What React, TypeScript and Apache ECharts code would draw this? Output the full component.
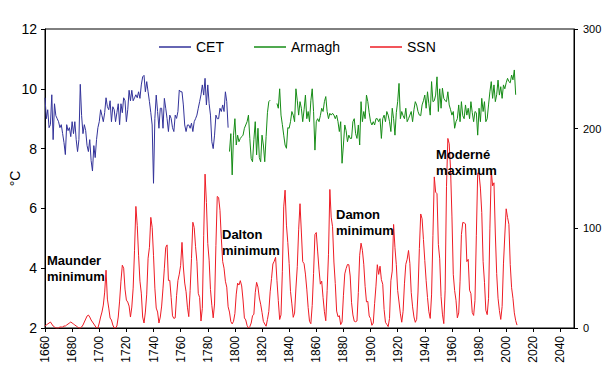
import React, { useEffect, useRef } from "react";
import * as echarts from "echarts";

const FONT = "'Liberation Sans', Arial, sans-serif";

// Central England Temperature, annual mean (°C), 1660–1795
const cetStartYear = 1660;
const cetValues = [
  9.7, 9.0, 9.3, 8.7, 8.8, 9.8, 8.3, 9.5, 9.1, 9.0,
  8.9, 8.7, 8.8, 8.5, 8.2, 7.8, 8.8, 8.6, 8.7, 8.4,
  8.9, 8.5, 8.9, 8.3, 7.9, 8.3, 10.15, 9.1, 8.5, 8.8,
  8.6, 8.1, 7.9, 8.3, 7.6, 7.25, 8.1, 7.7, 8.3, 8.7,
  8.9, 9.3, 9.1, 8.9, 9.2, 9.7, 9.4, 9.3, 9.6, 8.9,
  9.4, 9.3, 8.9, 9.2, 9.5, 8.8, 9.5, 9.2, 9.7, 9.6,
  8.9, 9.3, 9.95, 9.6, 9.95, 9.6, 9.7, 9.8, 9.7, 9.9,
  9.68, 10.13, 10.4, 10.45, 9.9, 10.24, 9.9, 9.57, 9.2, 8.79,
  6.84, 9.01, 9.79, 9.24, 8.68, 9.35, 9.35, 8.68, 9.68, 9.35,
  9.0, 8.57, 9.12, 9.01, 8.7, 8.57, 9.12, 9.01, 9.24, 9.96,
  9.9, 9.9, 9.46, 8.79, 8.57, 8.79, 8.79, 8.68, 8.85, 8.57,
  8.9, 9.0, 9.12, 9.35, 9.57, 9.8, 10.13, 9.79, 10.35, 9.46,
  10.13, 9.5, 9.12, 8.23, 8.0, 8.45, 9.12, 9.0, 9.0, 9.35,
  9.24, 9.46, 9.24, 9.9, 9.57, 8.7,
];

// Armagh annual mean (°C), 1796–2007 (null = missing years)
const armaghStartYear = 1796;
const armaghValues = [
  7.9, 8.5, 7.12, 8.45,
  9.0, 8.12, 8.45, 8.23, 8.34, 8.4, 8.45, 8.68, 8.79, 8.9,
  9.12, 8.34, 7.67, 7.56, 8.3, 8.9, 7.79, 8.68, 7.7, 7.56,
  8.45, 8.12, 7.56, 8.4, 9.2, 9.57, 9.62, null, null, null,
  null, 9.51, 9.35, 10.0, 9.12, 8.8, 8.45, 8.12, 8.01, 8.7,
  8.68, 8.9, 9.24, 9.12, 8.9, 10.0, 9.6, 9.12, 9.57, 9.35,
  8.9, 9.3, 9.79, 9.0, 9.24, 8.9, 9.6, 10.0, 9.24, 7.95,
  8.9, 9.0, 8.9, 9.1, 9.35, 9.24, 9.57, 9.74, 9.24, 9.0,
  9.18, 9.12, 9.18, 9.12, 9.0, 9.12, 8.9, 8.57, 8.9, 7.51,
  8.12, 8.79, 8.6, 8.23, 8.45, 8.34, 8.34, 8.9, 9.0, 8.5,
  8.34, 8.79, 8.12, 9.57, 8.9, 9.24, 9.0, 9.79, 9.57, 9.2,
  8.9, 8.79, 8.9, 8.79, 9.0, 9.0, 8.9, 9.0, 8.34, 9.0,
  9.12, 8.9, 9.24, 9.12, 8.9, 8.57, 9.35, 9.0, 8.45, 9.2,
  9.57, 10.18, 9.0, 9.24, 9.1, 9.0, 9.35, 8.9, 9.0, 9.12,
  9.24, 8.9, 9.3, 9.57, 9.46, 9.24, 9.12, 9.1, 9.46, 9.6,
  9.79, 9.35, 9.9, 9.5, 9.12, 10.24, 9.57, 9.6, 9.79, 10.4,
  9.24, 10.0, 9.35, 10.02, 9.68, 9.6, 9.57, 9.9, 9.46, 9.3,
  9.12, 9.24, 8.68, 8.9, 9.0, 9.46, 8.9, 9.57, 9.1, 9.0,
  9.46, 9.12, 9.35, 9.0, 9.57, 9.2, 8.9, 9.24, 9.2, 8.45,
  9.35, 8.9, 9.68, 9.24, 9.57, 8.9, 9.0, 9.46, 9.9, 10.24,
  9.68, 10.13, 9.57, 9.8, 10.29, 9.79, 10.07, 9.68, 10.13, 10.0,
  10.2, 10.35, 10.24, 10.2, 10.46, 10.3, 10.63, 9.8,
];

// Sunspot number, annual mean, 1660–2008
const ssnStartYear = 1660;
const ssnValues = [
  2, 3, 4, 5, 6, 4, 2, 1, 0, 0,
  0, 1, 1, 1, 2, 2, 3, 4, 5, 6,
  5, 4, 3, 2, 1, 0, 0, 1, 3, 6,
  9, 12, 13, 11, 8, 6, 4, 2, 0, 0,
  5, 11, 16, 23, 36, 58, 29, 20, 10, 8,
  3, 0, 0, 2, 11, 27, 47, 63, 60, 39,
  28, 26, 22, 11, 21, 40, 78, 122, 103, 73,
  47, 35, 11, 5, 16, 34, 70, 81, 111, 101,
  73, 40, 20, 16, 5, 11, 22, 40, 60, 80.9,
  83.4, 47.7, 47.8, 30.7, 12.2, 9.6, 10.2, 32.4, 47.6, 54.0,
  62.9, 85.9, 61.2, 45.1, 36.4, 20.9, 11.4, 37.8, 69.8, 106.1,
  100.8, 81.6, 66.5, 34.8, 30.6, 7.0, 19.8, 92.5, 154.4, 125.9,
  84.8, 68.1, 38.5, 22.8, 10.2, 24.1, 82.9, 132.0, 130.9, 118.1,
  89.9, 66.6, 60.0, 46.9, 41.0, 21.3, 16.0, 6.4, 4.1, 6.8,
  14.5, 34.0, 45.0, 43.1, 47.5, 42.2, 28.1, 10.1, 8.1, 2.5,
  0.0, 1.4, 5.0, 12.2, 13.9, 35.4, 45.8, 41.0, 30.1, 23.9,
  15.6, 6.6, 4.0, 1.8, 8.5, 16.6, 36.3, 49.6, 64.2, 67.0,
  70.9, 47.8, 27.5, 8.5, 13.2, 56.9, 121.5, 138.3, 103.2, 85.7,
  64.6, 36.7, 24.2, 10.7, 15.0, 40.1, 61.5, 98.5, 124.7, 96.3,
  66.6, 64.5, 54.1, 39.0, 20.6, 6.7, 4.3, 22.7, 54.8, 93.8,
  95.8, 77.2, 59.1, 44.0, 47.0, 30.5, 16.3, 7.3, 37.6, 74.0,
  139.0, 111.2, 101.6, 66.2, 44.7, 17.0, 11.3, 12.4, 3.4, 6.0,
  32.3, 54.3, 59.7, 63.7, 63.5, 52.2, 25.4, 13.1, 6.8, 6.3,
  7.1, 35.6, 73.0, 85.1, 78.0, 64.0, 41.8, 26.2, 26.7, 12.1,
  9.5, 2.7, 5.0, 24.4, 42.0, 63.5, 53.8, 62.0, 48.5, 43.9,
  18.6, 5.7, 3.6, 1.4, 9.6, 47.4, 57.1, 103.9, 80.6, 63.6,
  37.6, 26.1, 14.2, 5.8, 16.7, 44.3, 63.9, 69.0, 77.8, 64.9,
  35.7, 21.2, 11.1, 5.7, 8.7, 36.1, 79.7, 114.4, 109.6, 88.8,
  67.8, 47.5, 30.6, 16.3, 9.6, 33.2, 92.6, 151.6, 136.3, 134.7,
  83.9, 69.4, 31.5, 13.9, 4.4, 38.0, 141.7, 190.2, 184.8, 159.0,
  112.3, 53.9, 37.6, 27.9, 10.2, 15.1, 47.0, 93.8, 105.9, 105.5,
  104.5, 66.6, 68.9, 38.0, 34.5, 15.5, 12.6, 27.5, 92.5, 155.4,
  154.6, 140.4, 115.9, 66.6, 45.9, 17.9, 13.4, 29.4, 100.2, 157.6,
  142.6, 145.7, 94.3, 54.6, 29.9, 17.5, 8.6, 21.5, 64.3, 93.3,
  119.6, 111.0, 104.0, 63.7, 40.4, 29.8, 15.2, 7.5, 2.9,
];

const seriesNames = ["CET", "Armagh", "SSN"];
const seriesColors = ["#33339a", "#168c16", "#ee1c25"];
const yearAxis = { min: 1660, max: 2050, interval: 20 };
const tempAxis = { min: 2, max: 12, interval: 2, name: "°C" };
const ssnAxis = { min: 0, max: 300, interval: 100 };
const annotationTexts = ["Maunder\nminimum", "Dalton\nminimum", "Damon\nminimum", "Moderné\nmaximum"];

const toPairs = (start: number, vals: (number | null)[]) =>
  vals.map((v, i) => [start + i, v]);

export default function App() {
  const ref = useRef<HTMLDivElement>(null);

  useEffect(() => {
    if (!ref.current) return;
    const chart = echarts.init(ref.current, undefined, { renderer: "svg" });
    const annPos = [
      [47, 252],
      [222, 226],
      [336, 206],
      [436, 146],
    ];
    const axisCommon = {
      axisLine: { show: true, lineStyle: { color: "#000", width: 1 } },
      axisTick: { show: true, length: 4, lineStyle: { color: "#000" } },
      splitLine: { show: false },
    };
    const option: any = {
      animation: false,
      backgroundColor: "#ffffff",
      textStyle: { fontFamily: FONT },
      grid: {
        left: 45,
        right: 33,
        top: 29,
        bottom: 54,
        containLabel: false,
        outerBoundsMode: "none",
        show: true,
        borderColor: "#000",
        borderWidth: 1,
        backgroundColor: "transparent",
      },
      legend: {
        data: seriesNames.map((n) => ({ name: n, icon: "rect" })),
        left: 154,
        top: 35,
        itemWidth: 32,
        itemHeight: 1.5,
        itemGap: 30,
        textStyle: { fontSize: 14, color: "#000", fontFamily: FONT },
      },
      xAxis: {
        type: "value",
        min: yearAxis.min,
        max: yearAxis.max,
        interval: yearAxis.interval,
        ...axisCommon,
        axisLabel: {
          rotate: 90,
          fontSize: 12,
          color: "#000",
          margin: 8,
          showMaxLabel: false,
          fontFamily: FONT,
          formatter: (v: number) => String(v),
        },
      },
      yAxis: [
        {
          type: "value",
          min: tempAxis.min,
          max: tempAxis.max,
          interval: tempAxis.interval,
          name: tempAxis.name,
          nameLocation: "middle",
          nameGap: 23,
          nameMoveOverlap: false,
          nameTextStyle: { fontSize: 14, color: "#000", fontFamily: FONT },
          ...axisCommon,
          axisLabel: { fontSize: 14, color: "#000", margin: 8, fontFamily: FONT },
        },
        {
          type: "value",
          position: "right",
          min: ssnAxis.min,
          max: ssnAxis.max,
          interval: ssnAxis.interval,
          ...axisCommon,
          axisLabel: { fontSize: 11, color: "#000", margin: 9, fontFamily: FONT },
        },
      ],
      series: [
        { name: seriesNames[0], yAxisIndex: 0, data: toPairs(cetStartYear, cetValues) },
        { name: seriesNames[1], yAxisIndex: 0, data: toPairs(armaghStartYear, armaghValues) },
        { name: seriesNames[2], yAxisIndex: 1, data: toPairs(ssnStartYear, ssnValues) },
      ].map((s, i) => ({
        ...s,
        type: "line",
        symbol: "none",
        showSymbol: false,
        connectNulls: false,
        lineStyle: { color: seriesColors[i], width: 1 },
        itemStyle: { color: seriesColors[i] },
      })),
      graphic: annotationTexts.map((t, i) => ({
        type: "text",
        x: annPos[i][0],
        y: annPos[i][1],
        z: 100,
        style: {
          text: t,
          font: `bold 13px ${FONT}`,
          fill: "#000",
          lineHeight: 16,
          verticalAlign: "top",
          align: "left",
        },
      })),
    };
    chart.setOption(option);
    return () => chart.dispose();
  }, []);

  return (
    <div
      ref={ref}
      style={{ position: "fixed", left: 0, top: 0, width: 607, height: 382, background: "#fff" }}
    />
  );
}
